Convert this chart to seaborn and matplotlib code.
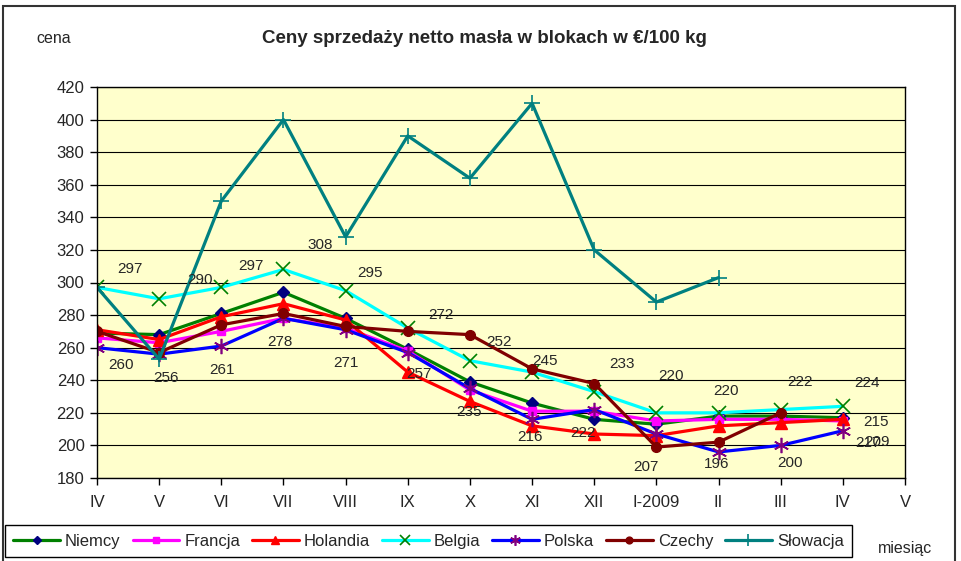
import numpy as np
import pandas as pd
import matplotlib
matplotlib.use("Agg")
import matplotlib.pyplot as plt
import seaborn as sns
from matplotlib.patches import Rectangle


months = ["IV", "V", "VI", "VII", "VIII", "IX", "X", "XI", "XII",
          "I-2009", "II", "III", "IV", "V"]

niemcy   = [269, 268, 281, 294, 278, 259, 239, 226, 216, 213, 218, 218, 217]
francja  = [266, 263, 270, 278, 272, 258, 234, 221, 221, 215, 216, 216, 215]
holandia = [271, 265, 279, 287, 277, 245, 227, 212, 207, 206, 212, 214, 216]
belgia   = [297, 290, 297, 308, 295, 272, 252, 245, 233, 220, 220, 222, 224]
polska   = [260, 256, 261, 278, 271, 257, 235, 216, 222, 207, 196, 200, 209]
czechy   = [270, 257, 274, 281, 273, 270, 268, 247, 238, 199, 202, 220]
slowacja = [297, 253, 350, 400, 328, 390, 364, 410, 320, 288, 303]

series = [
    # name, values, line colour, marker, marker colour, marker size
    ("Niemcy",   niemcy,   "#008000", "D", "#000080", 6),
    ("Francja",  francja,  "#FF00FF", "s", "#FF00FF", 6),
    ("Holandia", holandia, "#FF0000", "^", "#FF0000", 8),
    ("Belgia",   belgia,   "#00FFFF", "x", "#008000", 10),
    ("Polska",   polska,   "#0000FF", (6, 2, 0), "#800080", 11),
    ("Czechy",   czechy,   "#800000", "o", "#800000", 7),
    ("Słowacja", slowacja, "#008080", "+", "#008080", 12),
]

# label offsets in pixels (dx, dy) from the point
belgia_off = [(33, 18), (41, 19), (30, 21), (37, 24), (24, 18), (33, 13), (29, 19),
              (13, 11), (28, 28), (15, 37), (7, 22), (19, 28), (24, 23)]
polska_off = [(24, -17), (7, -24), (1, -24), (-4, -24), (0, -33), (11, -21), (-1, -24),
              (-2, -18), (-11, -23), (-10, -33), (-2, -12), (9, -18), (34, -11)]

sns.set_style("ticks")
plt.rcParams["font.family"] = ["Liberation Sans", "DejaVu Sans"]

fig = plt.figure(figsize=(9.62, 5.61), dpi=100)
ax = fig.add_axes([97 / 962, 83 / 561, 808 / 962, 391 / 561])
ax.set_facecolor("#FFFFCC")

for name, vals, col, mk, mcol, ms in series:
    df = pd.DataFrame({"x": np.arange(len(vals)), "y": vals})
    filled = mk not in ("x", "+") and not isinstance(mk, tuple)
    sns.lineplot(data=df, x="x", y="y", ax=ax, color=col, lw=2.3,
                 marker=mk, markersize=ms, mec=mcol,
                 markerfacecolor=mcol if filled else "none",
                 markeredgewidth=1.0 if filled else 1.2,
                 label=name)

lab_fs = 11
for i, v in enumerate(belgia):
    ax.annotate(str(v), (i, v), xytext=belgia_off[i], textcoords="offset pixels",
                ha="center", va="center", fontsize=lab_fs)
for i, v in enumerate(polska):
    ax.annotate(str(v), (i, v), xytext=polska_off[i], textcoords="offset pixels",
                ha="center", va="center", fontsize=lab_fs)
ax.annotate(str(niemcy[12]), (12, niemcy[12]), xytext=(25, -25), textcoords="offset pixels",
            ha="center", va="center", fontsize=lab_fs)
ax.annotate(str(francja[12]), (12, francja[12]), xytext=(33, -1), textcoords="offset pixels",
            ha="center", va="center", fontsize=lab_fs)

ax.set_xlim(0, 13)
ax.set_ylim(180, 420)
ax.set_xticks(np.arange(len(months)))
ax.set_xticklabels(months, fontsize=12)
ax.set_yticks(np.arange(180, 421, 20))
ax.tick_params(axis="y", labelsize=12, length=5, width=1, color="black", pad=4)
ax.tick_params(axis="x", length=5, width=1, color="black", pad=7)
ax.grid(axis="y", color="black", lw=0.8)
ax.grid(axis="x", visible=False)
ax.set_xlabel("")
ax.set_ylabel("")
for s in ax.spines.values():
    s.set_color("black")
    s.set_linewidth(1)

handles, labels = ax.get_legend_handles_labels()
ax.get_legend().remove()
fig.legend(handles, labels, loc="lower left", ncol=7, mode="expand",
           bbox_to_anchor=(5 / 962, 4 / 561, 847 / 962, 35 / 561),
           frameon=True, fancybox=False, edgecolor="black", framealpha=1,
           fontsize=12, handlelength=2.8, handletextpad=0.3, markerscale=0.7,
           columnspacing=0.5, borderpad=0.5, borderaxespad=0)

fig.text(0.504, 0.932, "Ceny sprzedaży netto masła w blokach w €/100 kg",
         ha="center", va="center", fontsize=13.5, fontweight="bold")
fig.text(54 / 962, 0.932, "cena", ha="center", va="center", fontsize=11.5)
fig.text(905 / 962, 0.023, "miesiąc", ha="center", va="center", fontsize=11.5)

fig.patches.append(Rectangle((3 / 962, -0.02), 952 / 962, (561 - 6) / 561 + 0.02,
                             transform=fig.transFigure, fill=False,
                             edgecolor="#333333", lw=1.5))

fig.savefig("out.png", dpi=100)
